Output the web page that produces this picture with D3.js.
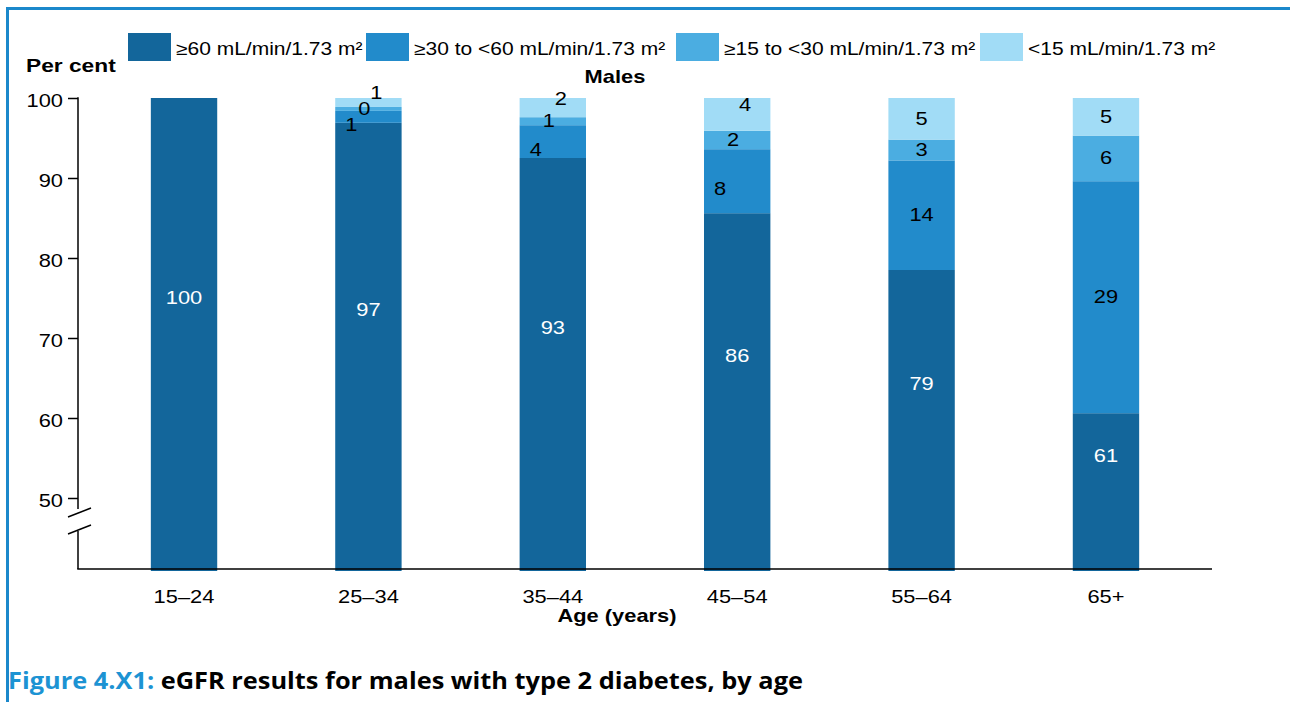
<!DOCTYPE html>
<html>
<head>
<meta charset="utf-8">
<script src="https://cdn.jsdelivr.net/npm/d3@7"></script>
<style>
  html, body { margin: 0; padding: 0; background: #fff; }
  svg { display: block; }
</style>
</head>
<body>
<svg id="chart" width="1290" height="702"></svg>
<script>
// ---------- DATA ----------
const categories = ["15–24", "25–34", "35–44", "45–54", "55–64", "65+"];
const seriesNames = ["≥60 mL/min/1.73 m²", "≥30 to <60 mL/min/1.73 m²", "≥15 to <30 mL/min/1.73 m²", "<15 mL/min/1.73 m²"];
const egfr60plus   = [100, 96.9, 92.5, 85.6, 78.5, 60.6];
const egfr30to60   = [0, 1.49, 4.1, 8.0, 13.7, 29.0];
const egfr15to30   = [0, 0.49, 1.0, 2.3, 2.6, 5.7];
const egfrUnder15  = [0, 1.12, 2.4, 4.1, 5.2, 4.7];
const yTicks = [50, 60, 70, 80, 90, 100];
const panelTitle = "Males";
const yTitle = "Per cent";
const xTitle = "Age (years)";
const figLabel = "Figure 4.X1:";
const figTitle = " eGFR results for males with type 2 diabetes, by age";

// ---------- STYLE ----------
const colors = ["#13669b", "#228bcb", "#4badE1", "#a1dcf6"];
const frameBlue = "#1b88cb";
const titleBlue = "#1c93d3";
const font = "'Liberation Sans', Arial, sans-serif";
const sx = 1.25; // horizontal stretch of chart text
const yBase = 50;   // axis break value
const nudgedCats = ["25–34", "35–44", "45–54"];
const labelNudge = [[0, 0], [-17, 8], [-4, 0], [8, -9]];

const seriesArrays = [egfr60plus, egfr30to60, egfr15to30, egfrUnder15];
const rows = categories.map((c, i) => {
  const r = { cat: c };
  seriesNames.forEach((s, k) => r[s] = seriesArrays[k][i]);
  return r;
});

const svg = d3.select("#chart");

function txt(parent, x, y, str, anchor, opts = {}) {
  return parent.append("text")
    .attr("transform", `translate(${x},${y}) scale(${opts.sx || sx},1)`)
    .attr("text-anchor", anchor || "start")
    .attr("font-family", font)
    .attr("font-size", opts.size || 17.5)
    .attr("font-weight", opts.weight || "normal")
    .attr("fill", opts.fill || "#000")
    .text(str);
}

// frame
svg.append("line").attr("x1", 6).attr("x2", 1290).attr("y1", 8.5).attr("y2", 8.5)
  .attr("stroke", frameBlue).attr("stroke-width", 3);
svg.append("line").attr("x1", 7.5).attr("x2", 7.5).attr("y1", 7).attr("y2", 702)
  .attr("stroke", frameBlue).attr("stroke-width", 3);

// scales
const y = d3.scaleLinear().domain([yBase, 100]).range([498, 98]);
const x = d3.scaleBand().domain(categories).range([78, 1212])
  .paddingInner(0.64).paddingOuter(0.395);
const axisX = 78;
const axisY = 569;

const stack = d3.stack().keys(seriesNames);
const stacked = stack(rows);

// bars
const gBars = svg.append("g");
stacked.forEach((layer, k) => {
  gBars.selectAll(null).data(layer).enter().append("rect")
    .attr("x", d => x(d.data.cat))
    .attr("width", x.bandwidth())
    .attr("y", d => y(d[1]))
    .attr("height", d => (k === 0 ? axisY + 2 : y(d[0])) - y(d[1]))
    .attr("fill", colors[k]);
});

// value labels
const gLab = svg.append("g");
stacked.forEach((layer, k) => {
  layer.forEach(d => {
    const v = d[1] - d[0];
    if (v <= 0) return;
    const lo = Math.max(d[0], yBase);
    const mid = y((lo + d[1]) / 2);
    const nud = nudgedCats.includes(d.data.cat) ? labelNudge[k] : [0, 0];
    const cx = x(d.data.cat) + x.bandwidth() / 2 + nud[0];
    txt(gLab, cx, mid + 6 + nud[1], String(Math.round(v)), "middle",
      { fill: k === 0 ? "#fff" : "#000" });
  });
});

// y axis
const gy = svg.append("g").attr("transform", `translate(${axisX},0)`)
  .call(d3.axisLeft(y).tickValues(yTicks).tickSize(10).tickSizeOuter(0).tickFormat(d3.format("d")));
gy.select(".domain").remove();
gy.selectAll(".tick line").attr("stroke", "#000").attr("stroke-width", 1.5);
gy.selectAll(".tick text").remove();
gy.selectAll(".tick").each(function(d) {
  txt(d3.select(this), -15, 8.5, String(d), "end");
});
// axis line with break
svg.append("line").attr("x1", axisX).attr("x2", axisX).attr("y1", y(100) - 0.75).attr("y2", 509)
  .attr("stroke", "#000").attr("stroke-width", 1.5);
svg.append("line").attr("x1", axisX).attr("x2", axisX).attr("y1", 531).attr("y2", axisY)
  .attr("stroke", "#000").attr("stroke-width", 1.5);
[[68, 517, 91, 508], [68, 534, 91, 525]].forEach(b => {
  svg.append("line").attr("x1", b[0]).attr("y1", b[1]).attr("x2", b[2]).attr("y2", b[3])
    .attr("stroke", "#000").attr("stroke-width", 1.5);
});

// x axis
const gx = svg.append("g").attr("transform", `translate(0,${axisY})`)
  .call(d3.axisBottom(x).tickSize(0).tickSizeOuter(0));
gx.select(".domain").remove();
gx.selectAll(".tick text").remove();
gx.selectAll(".tick").each(function(d) {
  txt(d3.select(this), 0, 34, d, "middle");
});
svg.append("line").attr("x1", axisX - 0.75).attr("x2", 1212).attr("y1", axisY).attr("y2", axisY)
  .attr("stroke", "#000").attr("stroke-width", 1.5);

// titles
txt(svg, 26, 72, yTitle, "start", { weight: "bold", size: 17.5, sx: 1.3 });
txt(svg, 615, 83, panelTitle, "middle", { weight: "bold", size: 17.5, sx: 1.25 });
txt(svg, 617, 622, xTitle, "middle", { weight: "bold", size: 17.5, sx: 1.25 });

// legend
const legendX = [128, 366, 676, 980];
const gLeg = svg.append("g");
seriesNames.forEach((s, k) => {
  gLeg.append("rect").attr("x", legendX[k]).attr("y", 33).attr("width", 43).attr("height", 28)
    .attr("fill", colors[k]);
  txt(gLeg, legendX[k] + 48, 54.5, s, "start", { sx: 1.2 });
});

// figure caption
const cap = svg.append("text")
  .attr("x", 8).attr("y", 689)
  .attr("font-family", "'Open Sans', 'Noto Sans', sans-serif")
  .attr("font-weight", "bold").attr("font-size", 23)
  .attr("textLength", 795).attr("lengthAdjust", "spacingAndGlyphs");
cap.append("tspan").attr("fill", titleBlue).text(figLabel);
cap.append("tspan").attr("fill", "#000").text(figTitle);
</script>
</body>
</html>
